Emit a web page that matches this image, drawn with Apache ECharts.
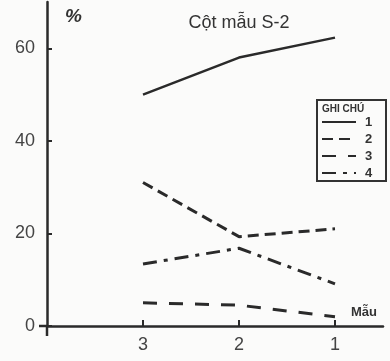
<!DOCTYPE html>
<html>
<head>
<meta charset="utf-8">
<script src="https://cdn.jsdelivr.net/npm/echarts@6/dist/echarts.min.js"></script>
<style>
  html, body { margin: 0; padding: 0; background: #fbfbfa; }
  #echarts { width: 390px; height: 361px; }
</style>
</head>
<body>
<div id="echarts"></div>
<script>
var samples = [3, 2, 1];
var yTicks = [0, 20, 40, 60];
var seriesNames = ['1', '2', '3', '4'];
var s1 = [50, 58, 62.3];
var s2 = [31, 19.3, 21];
var s3 = [5, 4.5, 2];
var s4 = [13.4, 16.8, 9.1];

function pairs(vals) {
  return samples.map(function (x, i) { return [x, vals[i]]; });
}

var myChart = echarts.init(document.getElementById('echarts'));

var ink = '#2a2a2a';

option = {
  backgroundColor: '#fbfbfa',
  animation: false,
  color: [ink, ink, ink, ink],
  textStyle: { fontFamily: 'Liberation Sans' },
  title: {
    text: 'Cột mẫu S-2',
    left: 234,
    top: 9,
    textAlign: 'center',
    textStyle: { color: '#333', fontSize: 18, fontWeight: 'normal' }
  },
  grid: { left: 47, right: 7, top: 2, bottom: 35 },
  xAxis: {
    type: 'value',
    inverse: true,
    min: 0.5,
    max: 4,
    axisLine: { lineStyle: { color: ink, width: 2.5 } },
    axisTick: { inside: true, length: 6, lineStyle: { color: ink, width: 2 }, customValues: samples },
    axisLabel: { customValues: samples, color: '#444', fontSize: 18, margin: 10 },
    splitLine: { show: false }
  },
  yAxis: {
    type: 'value',
    min: 0,
    max: 70,
    axisLine: { show: true, lineStyle: { color: ink, width: 2.5 } },
    axisTick: { show: true, inside: true, length: 5, lineStyle: { color: ink, width: 2 }, customValues: yTicks },
    axisLabel: { customValues: yTicks, color: '#444', fontSize: 18, margin: 12 },
    splitLine: { show: false }
  },
  legend: {
    orient: 'vertical',
    left: 321,
    top: 115,
    padding: 0,
    itemWidth: 34,
    itemHeight: 10,
    itemGap: 3,
    data: seriesNames,
    itemStyle: { opacity: 0 },
    lineStyle: { width: 2 },
    textStyle: { color: '#333', fontWeight: 'bold', fontSize: 13, lineHeight: 14, padding: [0, 0, 0, 4] }
  },
  graphic: [
    { type: 'rect', shape: { x: 317, y: 100, width: 69, height: 81 }, style: { fill: 'none', stroke: '#333', lineWidth: 2 } },
    { type: 'text', x: 322, y: 104, style: { text: 'GHI CHÚ', fill: '#333', font: 'bold 10px Liberation Sans' } },
    { type: 'text', x: 65, y: 7, style: { text: '%', fill: '#333', font: 'italic bold 19px Liberation Sans' } },
    { type: 'text', x: 351, y: 306, style: { text: 'Mẫu', fill: '#333', font: 'bold 13px Liberation Sans' } },
    { type: 'line', shape: { x1: 47, y1: 326, x2: 47, y2: 336 }, style: { stroke: ink, lineWidth: 2.5 } },
    { type: 'line', shape: { x1: 39, y1: 326, x2: 47, y2: 326 }, style: { stroke: ink, lineWidth: 2.5 } }
  ],
  series: [
    { name: '1', type: 'line', data: pairs(s1), symbol: 'none', lineStyle: { color: ink, width: 2.5, type: 'solid' } },
    { name: '2', type: 'line', data: pairs(s2), symbol: 'none', lineStyle: { color: ink, width: 3, type: [11, 6] } },
    { name: '3', type: 'line', data: pairs(s3), symbol: 'none', lineStyle: { color: ink, width: 3, type: [14, 12] } },
    { name: '4', type: 'line', data: pairs(s4), symbol: 'none', lineStyle: { color: ink, width: 3, type: [14, 7, 4, 7] } }
  ]
};

myChart.setOption(option);
</script>
</body>
</html>
